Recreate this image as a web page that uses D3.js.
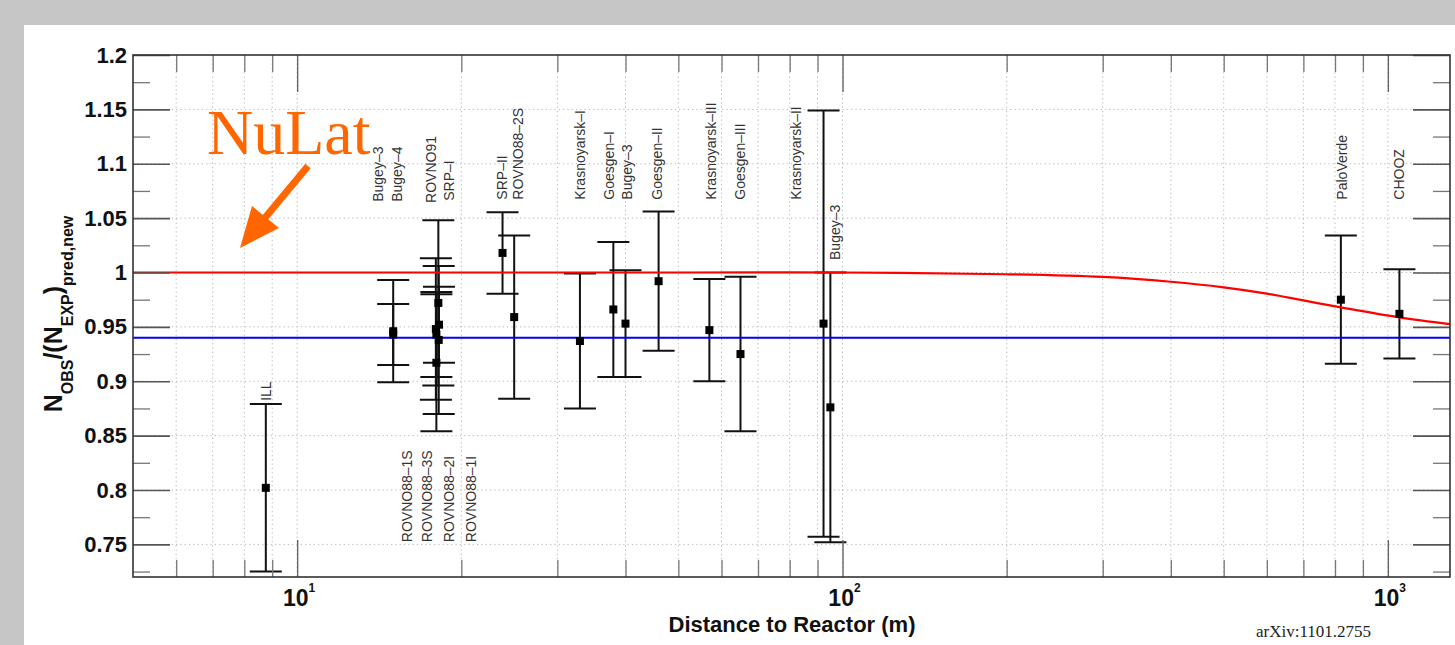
<!DOCTYPE html>
<html>
<head>
<meta charset="utf-8">
<script src="https://cdn.jsdelivr.net/npm/d3@7"></script>
<style>
  html, body { margin: 0; padding: 0; background: #c6c6c6; }
  svg { display: block; }
</style>
</head>
<body>
<svg id="chart"></svg>
<script>
// --- data ---
var expNames = ["ILL", "Bugey-4", "Bugey-3", "ROVNO91", "SRP-I", "ROVNO88-1I", "ROVNO88-2I",
                "ROVNO88-1S", "ROVNO88-3S", "SRP-II", "ROVNO88-2S", "Krasnoyarsk-I", "Goesgen-I",
                "Bugey-3", "Goesgen-II", "Krasnoyarsk-III", "Goesgen-III", "Krasnoyarsk-II",
                "Bugey-3", "PaloVerde", "CHOOZ"];
var expDist  = [8.76, 15, 15, 18.0, 18.2, 18.0, 17.96, 18.15, 18.18, 23.8, 25.0, 33, 38,
                40, 46, 57, 65, 92.3, 95, 820, 1050];
var expRatio = [0.802, 0.943, 0.946, 0.943, 0.952, 0.917, 0.948, 0.972, 0.938, 1.018, 0.959,
                0.937, 0.966, 0.953, 0.992, 0.947, 0.925, 0.953, 0.876, 0.975, 0.962];
var expErr   = [0.077, 0.028, 0.047, 0.039, 0.035, 0.063, 0.065, 0.076, 0.068, 0.0375, 0.075,
                0.062, 0.062, 0.049, 0.064, 0.047, 0.071, 0.196, 0.124, 0.059, 0.041];

// experiment labels: text, distance of label centre, ratio at the bottom of the label
var labelText = ["ILL", "Bugey\u20133", "Bugey\u20134", "ROVNO91", "SRP\u2013I", "SRP\u2013II",
                 "ROVNO88\u20132S", "Krasnoyarsk\u2013I", "Goesgen\u2013I", "Bugey\u20133",
                 "Goesgen\u2013II", "Krasnoyarsk\u2013III", "Goesgen\u2013III", "Krasnoyarsk\u2013II",
                 "Bugey\u20133", "PaloVerde", "CHOOZ",
                 "ROVNO88\u20131S", "ROVNO88\u20133S", "ROVNO88\u20132I", "ROVNO88\u20131I"];
var labelDist = [8.76, 14.04, 15.22, 17.57, 18.95, 23.7, 25.35, 32.94, 37.37, 40.32, 45.76,
                 57.47, 64.95, 82.28, 96.97, 823.6, 1047.6, 15.87, 17.27, 18.95, 20.79];
var labelBase = [0.882, 1.065, 1.065, 1.064, 1.066, 1.067, 1.067, 1.067, 1.067, 1.067, 1.067,
                 1.067, 1.067, 1.067, 1.0115, 1.067, 1.067, 0.752, 0.752, 0.752, 0.752];

// red curve (oscillation expectation) and blue mean line
var curveDist  = [5, 50, 100, 200, 300, 400, 500, 600, 700, 820, 1050, 1300];
var curveRatio = [1.0, 1.0, 1.0, 0.9984, 0.9959, 0.9915, 0.9864, 0.9806, 0.9743, 0.968, 0.9588, 0.9526];
var meanRatio = 0.94;

var yMajor = [0.75, 0.8, 0.85, 0.9, 0.95, 1.0, 1.05, 1.1, 1.15, 1.2];
var yMinor = [0.725, 0.775, 0.825, 0.875, 0.925, 0.975, 1.025, 1.075, 1.125, 1.175];
var xDecades = [10, 100, 1000];
var xDecadeExp = ["1", "2", "3"];

// --- layout ---
var W = 1455, H = 645;
var L = 133, T = 55, R = 1450, B = 577;
var sansBold = "'Liberation Sans', Arial, Helvetica, sans-serif";

var svg = d3.select("#chart").attr("width", W).attr("height", H);

svg.append("rect").attr("x", 0).attr("y", 0).attr("width", W).attr("height", H).attr("fill", "#c6c6c6");
svg.append("rect").attr("x", 24).attr("y", 25).attr("width", W - 24).attr("height", H - 25).attr("fill", "#ffffff");

var x = d3.scaleLog().domain([5, 1300]).range([L, R]);
var y = d3.scaleLinear().domain([0.72, 1.2]).range([B, T]);

var xAll = x.ticks().filter(function(d) { return d > 5 && d < 1300; });
var xMinor = xAll.filter(function(d) { return xDecades.indexOf(d) < 0; });

// grid
var grid = svg.append("g");
grid.selectAll("line.gx").data(xAll).enter().append("line")
  .attr("x1", function(d) { return x(d); }).attr("x2", function(d) { return x(d); })
  .attr("y1", T).attr("y2", B)
  .attr("stroke", "#b8b8b8").attr("stroke-width", 1).attr("stroke-dasharray", "1.3,3");
grid.selectAll("line.gy").data(yMajor.filter(function(d) { return d < 1.2; })).enter().append("line")
  .attr("x1", L).attr("x2", R)
  .attr("y1", function(d) { return y(d); }).attr("y2", function(d) { return y(d); })
  .attr("stroke", "#b8b8b8").attr("stroke-width", 1).attr("stroke-dasharray", "1.3,3");

// error bars
var pts = expDist.map(function(d, i) { return { L: d, r: expRatio[i], e: expErr[i], name: expNames[i] }; });
var bars = svg.append("g").attr("stroke", "#111").attr("stroke-width", 2);
pts.forEach(function(p) {
  var cx = x(p.L);
  bars.append("line").attr("x1", cx).attr("x2", cx).attr("y1", y(p.r - p.e)).attr("y2", y(p.r + p.e));
  bars.append("line").attr("x1", cx - 16).attr("x2", cx + 16).attr("y1", y(p.r + p.e)).attr("y2", y(p.r + p.e));
  bars.append("line").attr("x1", cx - 16).attr("x2", cx + 16).attr("y1", y(p.r - p.e)).attr("y2", y(p.r - p.e));
});

// lines
var line = d3.line().x(function(d) { return x(d[0]); }).y(function(d) { return y(d[1]); });
svg.append("path")
  .datum([[5, meanRatio], [1300, meanRatio]])
  .attr("d", line).attr("fill", "none").attr("stroke", "#0000ff").attr("stroke-width", 2.2);
svg.append("path")
  .datum(curveDist.map(function(d, i) { return [d, curveRatio[i]]; }))
  .attr("d", line.curve(d3.curveCatmullRom.alpha(0.5))).attr("fill", "none")
  .attr("stroke", "#ff0000").attr("stroke-width", 2.2);

// markers
svg.append("g").selectAll("rect").data(pts).enter().append("rect")
  .attr("x", function(d) { return x(d.L) - 4; })
  .attr("y", function(d) { return y(d.r) - 4; })
  .attr("width", 8).attr("height", 8).attr("fill", "#000");

// ticks
function styleTicks(g, col, w) {
  g.select(".domain").remove();
  g.selectAll(".tick line").attr("stroke", col).attr("stroke-width", w);
}
svg.append("g").attr("transform", "translate(" + L + ",0)")
  .call(d3.axisLeft(y).tickValues(yMajor).tickSize(-37).tickFormat(""))
  .call(styleTicks, "#555", 1.6);
svg.append("g").attr("transform", "translate(" + L + ",0)")
  .call(d3.axisLeft(y).tickValues(yMinor).tickSize(-17).tickFormat(""))
  .call(styleTicks, "#777", 1.3);
svg.append("g").attr("transform", "translate(" + R + ",0)")
  .call(d3.axisRight(y).tickValues(yMajor).tickSize(-37).tickFormat(""))
  .call(styleTicks, "#555", 1.6);
svg.append("g").attr("transform", "translate(" + R + ",0)")
  .call(d3.axisRight(y).tickValues(yMinor).tickSize(-17).tickFormat(""))
  .call(styleTicks, "#777", 1.3);
svg.append("g").attr("transform", "translate(0," + T + ")")
  .call(d3.axisTop(x).tickValues(xDecades).tickSize(-37).tickFormat(""))
  .call(styleTicks, "#666", 1.4);
svg.append("g").attr("transform", "translate(0," + T + ")")
  .call(d3.axisTop(x).tickValues(xMinor).tickSize(-17).tickFormat(""))
  .call(styleTicks, "#777", 1.3);
svg.append("g").attr("transform", "translate(0," + B + ")")
  .call(d3.axisBottom(x).tickValues(xDecades).tickSize(-37).tickFormat(""))
  .call(styleTicks, "#666", 1.4);
svg.append("g").attr("transform", "translate(0," + B + ")")
  .call(d3.axisBottom(x).tickValues(xMinor).tickSize(-17).tickFormat(""))
  .call(styleTicks, "#777", 1.3);

// frame
svg.append("rect").attr("x", L).attr("y", T).attr("width", R - L).attr("height", B - T)
  .attr("fill", "none").attr("stroke", "#333").attr("stroke-width", 1.6);

// y tick labels
var yLab = svg.append("g").attr("transform", "translate(" + L + ",0)")
  .call(d3.axisLeft(y).tickValues(yMajor).tickSize(0).tickPadding(6).tickFormat(d3.format("")));
yLab.select(".domain").remove();
yLab.selectAll("text").style("font-family", sansBold).style("font-weight", "bold")
  .style("font-size", "22px").attr("fill", "#111");

// x tick labels 10^n
xDecades.forEach(function(d, i) {
  var t = svg.append("text").attr("x", x(d) + 2).attr("y", 606)
    .attr("text-anchor", "middle").attr("fill", "#111")
    .style("font-family", sansBold).style("font-weight", "bold").style("font-size", "23px");
  t.append("tspan").text("10");
  t.append("tspan").attr("dy", -14).style("font-size", "12px").text(xDecadeExp[i]);
});

// axis titles
svg.append("text").attr("x", 792).attr("y", 632).attr("text-anchor", "middle").attr("fill", "#111")
  .style("font-family", sansBold).style("font-weight", "bold").style("font-size", "22px")
  .text("Distance to Reactor (m)");

var yt = svg.append("text").attr("transform", "translate(62,314) rotate(-90)")
  .attr("text-anchor", "middle").attr("fill", "#111")
  .style("font-family", sansBold).style("font-weight", "bold").style("font-size", "25px");
yt.append("tspan").text("N");
yt.append("tspan").attr("dy", 11).style("font-size", "16px").text("OBS");
yt.append("tspan").attr("dy", -11).text("/(N");
yt.append("tspan").attr("dy", 11).style("font-size", "16px").text("EXP");
yt.append("tspan").attr("dy", -11).text(")");
yt.append("tspan").attr("dy", 11).style("font-size", "16px").text("pred,new");

// experiment labels
var labs = svg.append("g").style("font-family", "'Liberation Sans', Arial, sans-serif")
  .style("font-size", "14px").attr("fill", "#333");
labelText.forEach(function(s, i) {
  labs.append("text")
    .attr("transform", "translate(" + x(labelDist[i]) + "," + y(labelBase[i]) + ") rotate(-90)")
    .attr("dy", "0.36em").text(s);
});

// arXiv reference
svg.append("text").attr("x", 1256).attr("y", 637).attr("fill", "#222")
  .style("font-family", "'Liberation Serif', 'Times New Roman', serif").style("font-size", "17px")
  .text("arXiv:1101.2755");

// NuLat annotation
var orange = "#ff6600";
svg.append("text").attr("x", 207).attr("y", 154).attr("fill", orange)
  .style("font-family", "'Liberation Serif', 'Times New Roman', serif").style("font-size", "64px")
  .text("NuLat");
svg.append("line").attr("x1", 308).attr("y1", 166).attr("x2", 264).attr("y2", 219)
  .attr("stroke", orange).attr("stroke-width", 7);
svg.append("polygon").attr("points", "240,248 252,206 279,228").attr("fill", orange);
</script>
</body>
</html>
